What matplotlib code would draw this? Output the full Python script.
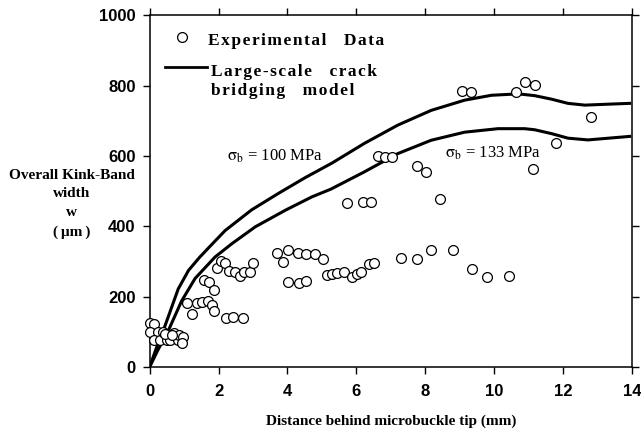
import numpy as np
import matplotlib
matplotlib.use("Agg")
import matplotlib.pyplot as plt

# experimental kink-band widths (distance mm, width um)
exp_x = [0.01, 0.14, 0.01, 0.25, 0.14, 0.30, 0.40, 0.50, 0.59, 0.72, 0.83, 0.85, 0.98, 0.95, 0.45, 0.65,
         1.08, 1.22, 1.37, 1.51, 1.69, 1.80, 1.87, 1.59, 1.73, 1.87,
         1.95, 2.07, 2.19, 2.31, 2.48, 2.62, 2.75, 2.92, 3.01, 2.21, 2.43, 2.72,
         3.69, 3.88, 4.03, 4.32, 4.53, 4.80, 5.04, 4.03, 4.34, 4.53,
         5.14, 5.28, 5.43, 5.65, 5.87, 6.02, 6.13, 6.38, 6.50, 7.29, 7.77, 8.17, 8.80, 9.37, 9.80, 10.43,
         5.72, 6.20, 6.43, 6.64, 6.83, 7.03, 7.77, 8.01, 8.43,
         9.06, 9.32, 10.64, 10.88, 11.19, 12.81, 11.79, 11.14]
exp_y = [124, 122, 100, 100, 77, 77, 99, 77, 77, 96, 77, 91, 86, 69, 95, 92,
         183, 151, 181, 186, 189, 176, 160, 247, 241, 219,
         283, 302, 295, 274, 271, 259, 271, 271, 297, 140, 141, 140,
         323, 300, 333, 325, 321, 321, 306, 243, 240, 245,
         262, 265, 267, 271, 255, 264, 269, 293, 295, 310, 307, 333, 333, 278, 255, 259,
         466, 469, 469, 601, 598, 597, 572, 554, 477,
         785, 783, 783, 810, 802, 712, 638, 562]

# large-scale bridging model, sigma_b = 100 MPa
m100_x = [0, 0.20, 0.45, 0.83, 1.13, 1.45, 1.75, 2.19, 2.96, 3.74, 4.52, 5.29, 6.23, 7.20,
          8.17, 9.14, 9.92, 10.7, 11.17, 11.66, 12.14, 12.63, 13.4, 13.93]
m100_y = [0, 55, 118, 222, 275, 312, 343, 388, 447, 494, 539, 580, 636, 688,
          730, 759, 773, 777, 772, 762, 750, 745, 748, 750]

# sigma_b = 133 MPa
m133_x = [0, 0.25, 0.55, 0.93, 1.32, 1.90, 2.39, 3.07, 3.94, 4.71, 5.26, 6.23, 7.20,
          8.17, 9.14, 10.11, 10.88, 11.17, 11.66, 12.14, 12.72, 13.93]
m133_y = [0, 50, 105, 188, 252, 313, 351, 399, 446, 484, 506, 555, 607,
          645, 668, 678, 678, 675, 664, 651, 646, 656]

plt.rcParams.update({
    'font.family': ['Liberation Serif', 'DejaVu Serif'],
    'mathtext.fontset': 'stix',
    'axes.linewidth': 1.1,
    'xtick.direction': 'out',
    'ytick.direction': 'out',
})

HS = '\u200a'  # hair space, used to widen the letter spacing like the scan


def spread(s):
    return ' '.join(HS.join(w) for w in s.split(' '))


fig = plt.figure(figsize=(6.41, 4.30), dpi=100)
ax = fig.add_axes([0.2334, 0.1465, 0.7526, 0.8175])

ax.plot(m100_x, m100_y, color='black', linewidth=2.2, solid_joinstyle='round')
ax.plot(m133_x, m133_y, color='black', linewidth=2.2, solid_joinstyle='round')
ax.scatter(exp_x, exp_y, s=50, facecolors='white', edgecolors='black', linewidths=0.9,
           zorder=3, clip_on=False)

ax.set_xlim(0, 14)
ax.set_ylim(0, 1000)
ax.set_xticks(np.arange(0, 15, 2))
ax.set_yticks(np.arange(0, 1001, 200))
ax.tick_params(which='both', top=True, right=True, length=5, width=1.0, pad=5)
ax.tick_params(axis='x', pad=7)
for lab in ax.get_xticklabels() + ax.get_yticklabels():
    lab.set_family('Liberation Sans')
    lab.set_fontweight('bold')
    lab.set_fontsize(12)

fig.text(0.610, 0.021, 'Distance behind microbuckle tip (mm)', ha='center', va='center',
         fontsize=11, fontweight='bold')

# y label, one line at a time
ylab_lines = ['Overall Kink-Band', 'width', 'w', '(\u2009\u03bcm\u2009)']
ylab_px = [175, 193, 212, 232]
for s, py in zip(ylab_lines, ylab_px):
    fig.text(0.112, 1 - py / 430, s, ha='center', va='center', fontsize=11, fontweight='bold')

# legend drawn by hand
ax.scatter([0.95], [938], s=50, facecolors='white', edgecolors='black', linewidths=0.9, clip_on=False)
ax.text(1.70, 916, spread('Experimental') + '    ' + spread('Data'), fontsize=12.5, fontweight='bold',
        va='baseline')
ax.plot([0.45, 1.68], [853, 853], color='black', linewidth=2.0)
ax.text(1.78, 828, spread('Large-scale') + '    ' + spread('crack'), fontsize=12.5, fontweight='bold',
        va='baseline')
ax.text(1.78, 774, spread('bridging') + '    ' + spread('model'), fontsize=12.5, fontweight='bold',
        va='baseline')

ax.text(2.25, 587, r'$\mathrm{\sigma}_{\mathrm{b}}$ = 100 MPa', fontsize=12, va='baseline')
ax.text(8.58, 597, r'$\mathrm{\sigma}_{\mathrm{b}}$ = 133 MPa', fontsize=12, va='baseline')

fig.savefig('out.png', dpi=100)
